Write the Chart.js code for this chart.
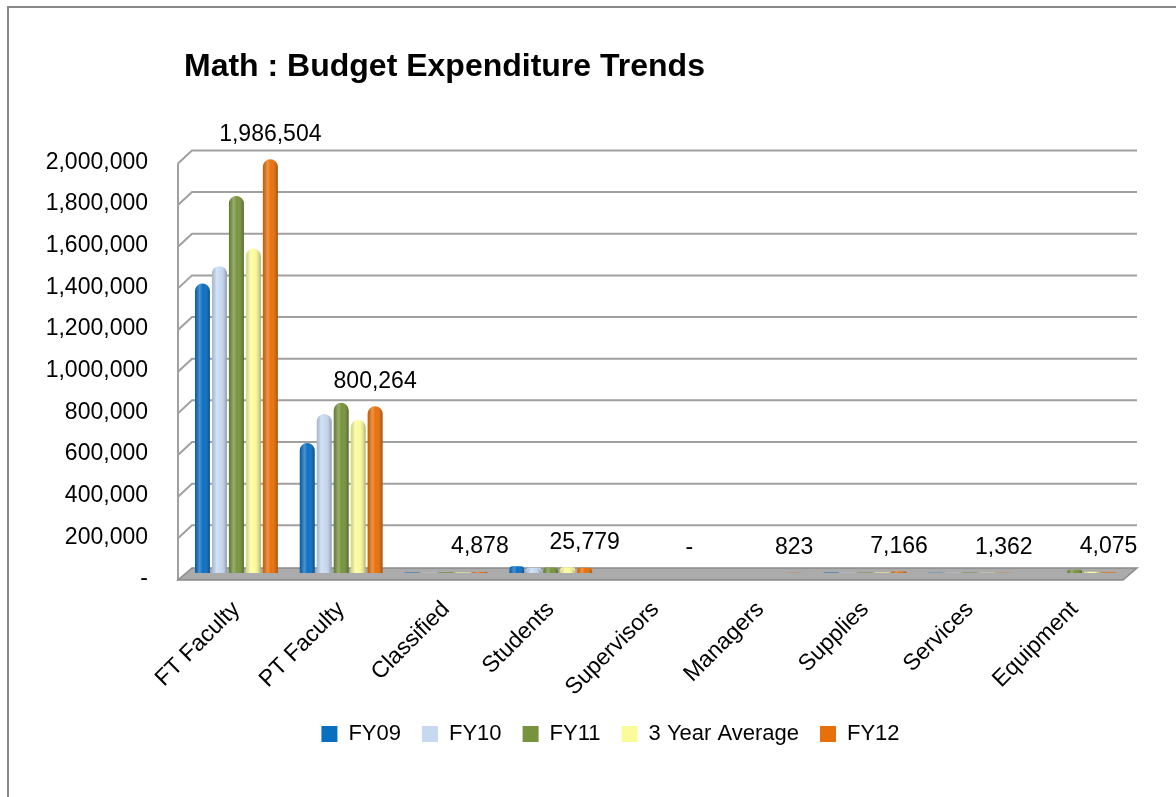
<!DOCTYPE html>
<html>
<head>
<meta charset="utf-8">
<title>Math : Budget Expenditure Trends</title>
<script src="https://cdn.jsdelivr.net/npm/chart.js"></script>
<style>
  html, body { margin: 0; padding: 0; background: #fff; }
  #wrap { width: 1176px; height: 797px; }
</style>
</head>
<body>
<div id="wrap"><canvas id="budgetChart" width="1176" height="797"></canvas></div>
<script>
// budget lines and yearly spending
const categories = ['FT Faculty', 'PT Faculty', 'Classified', 'Students', 'Supervisors', 'Managers', 'Supplies', 'Services', 'Equipment'];
const fy09 = [1390000, 624000, 2500, 32000, 0, 600, 2000, 900, 0];
const fy10 = [1473000, 763000, 1800, 25000, 0, 0, 1500, 1100, 500];
const fy11 = [1810000, 817000, 3200, 27000, 0, 400, 3000, 2000, 16000];
const avg3 = [1558000, 735000, 2500, 28000, 0, 333, 2167, 1333, 5500];
const fy12 = [1986504, 800264, 4878, 25779, 0, 823, 7166, 1362, 4075];

const seriesNames = ['FY09', 'FY10', 'FY11', '3 Year Average', 'FY12'];
const seriesValues = [fy09, fy10, fy11, avg3, fy12];
const seriesColors = ['#0b6fc1', '#c6d9f1', '#77933c', '#fbfb9c', '#e8700a'];
const seriesEdges = ['#07508c', '#93aacb', '#556b2a', '#c9c96c', '#a84f05'];

const yMax = 2000000;
const yStep = 200000;
const labelSeries = 4; // only FY12 gets value labels

function fmt(v) {
  return v === 0 ? '-' : v.toLocaleString('en-US');
}

Chart.defaults.font.family = "'Liberation Sans', Arial, sans-serif";
Chart.defaults.color = '#000';

// outer frame of the chart box
const framePlugin = {
  id: 'frame',
  beforeDraw(chart) {
    const ctx = chart.ctx;
    ctx.save();
    ctx.fillStyle = '#fff';
    ctx.fillRect(0, 0, chart.width, chart.height);
    ctx.strokeStyle = '#888';
    ctx.lineWidth = 2;
    ctx.beginPath();
    ctx.moveTo(8, chart.height);
    ctx.lineTo(8, 7);
    ctx.lineTo(chart.width, 7);
    ctx.stroke();
    ctx.restore();
  }
};

// push the legend a little right so it sits under the plot
const legendShift = {
  id: 'legendShift',
  afterLayout(chart) {
    const lg = chart.legend;
    if (!lg) return;
    lg.left += 29;
    lg.right += 29;
    if (lg.legendHitBoxes) lg.legendHitBoxes.forEach(b => { b.left += 29; });
  }
};

// back wall grid, side wall and floor of the 3-D box
const wallPlugin = {
  id: 'walls',
  beforeDatasetsDraw(chart) {
    const ctx = chart.ctx;
    const area = chart.chartArea;
    const ys = chart.scales.y;
    const frontX = area.left - 6;
    const backX = area.left + 8;
    const backRight = area.right + 10;
    const base = ys.getPixelForValue(0);
    ctx.save();
    ctx.strokeStyle = '#a0a0a0';
    ctx.lineWidth = 2;
    ctx.beginPath();
    for (let v = yStep; v <= yMax; v += yStep) {
      const yy = ys.getPixelForValue(v);
      ctx.moveTo(frontX, yy + 7);
      ctx.lineTo(backX, yy - 6);
      ctx.lineTo(backRight, yy - 6);
    }
    ctx.moveTo(frontX, ys.getPixelForValue(yMax) + 7);
    ctx.lineTo(frontX, base + 7);
    ctx.stroke();

    ctx.beginPath();
    ctx.moveTo(frontX, base + 7);
    ctx.lineTo(backRight - 14, base + 7);
    ctx.lineTo(backRight, base - 5);
    ctx.lineTo(backX, base - 5);
    ctx.closePath();
    ctx.fillStyle = '#ababab';
    ctx.fill();
    ctx.strokeStyle = '#8a8a8a';
    ctx.lineWidth = 1.5;
    ctx.stroke();
    ctx.restore();
  }
};

// cylinder shading over each bar
const cylinderPlugin = {
  id: 'cylinder',
  afterDatasetsDraw(chart) {
    const ctx = chart.ctx;
    chart.data.datasets.forEach((ds, i) => {
      chart.getDatasetMeta(i).data.forEach(bar => {
        const p = bar.getProps(['x', 'y', 'base', 'width'], true);
        const h = p.base - p.y;
        if (h < 1) return;
        const left = p.x - p.width / 2;
        const r = Math.min(p.width / 2, h);
        const g = ctx.createLinearGradient(left, 0, left + p.width, 0);
        g.addColorStop(0, 'rgba(0,0,0,0.15)');
        g.addColorStop(0.3, 'rgba(255,255,255,0.25)');
        g.addColorStop(0.55, 'rgba(255,255,255,0)');
        g.addColorStop(1, 'rgba(0,0,0,0.3)');
        ctx.save();
        ctx.beginPath();
        ctx.roundRect(left, p.y, p.width, h, [r, r, 0, 0]);
        ctx.fillStyle = g;
        ctx.fill();
        ctx.restore();
      });
    });
  }
};

// FY12 values above the bars
const valueLabelPlugin = {
  id: 'valueLabels',
  afterDatasetsDraw(chart) {
    const ctx = chart.ctx;
    const meta = chart.getDatasetMeta(labelSeries);
    const values = chart.data.datasets[labelSeries].data;
    ctx.save();
    ctx.font = "23px 'Liberation Sans', Arial, sans-serif";
    ctx.fillStyle = '#000';
    ctx.textAlign = 'center';
    ctx.textBaseline = 'middle';
    meta.data.forEach((bar, j) => {
      const p = bar.getProps(['x', 'y'], true);
      ctx.fillText(fmt(values[j]), p.x, p.y - 25);
    });
    ctx.restore();
  }
};

const datasets = seriesNames.map((name, i) => ({
  label: name,
  data: seriesValues[i],
  backgroundColor: seriesColors[i],
  borderColor: seriesEdges[i],
  borderWidth: 0,
  borderRadius: { topLeft: 8, topRight: 8, bottomLeft: 0, bottomRight: 0 },
  borderSkipped: false,
  categoryPercentage: 0.81,
  barPercentage: 0.88
}));

new Chart(document.getElementById('budgetChart').getContext('2d'), {
  type: 'bar',
  data: { labels: categories, datasets: datasets },
  plugins: [framePlugin, legendShift, wallPlugin, cylinderPlugin, valueLabelPlugin],
  options: {
    responsive: false,
    animation: false,
    layout: { padding: { left: 36, right: 49, top: 0, bottom: 42 } },
    plugins: {
      title: {
        display: true,
        text: 'Math : Budget Expenditure Trends',
        align: 'start',
        fullSize: false,
        color: '#000',
        font: { size: 32, weight: 'bold' },
        padding: { top: 48, bottom: 70 }
      },
      legend: {
        position: 'bottom',
        labels: {
          boxWidth: 16,
          boxHeight: 16,
          padding: 21,
          color: '#000',
          font: { size: 22 }
        }
      },
      tooltip: { enabled: false }
    },
    scales: {
      x: {
        grid: { display: false, drawTicks: false },
        border: { display: false },
        ticks: { autoSkip: false, maxRotation: 45, minRotation: 45, padding: 23, color: '#000', font: { size: 23 } },
        afterFit(scale) { scale.height = 129; }
      },
      y: {
        min: 0,
        max: yMax,
        grid: { display: false, drawTicks: false },
        border: { display: false },
        ticks: {
          stepSize: yStep,
          padding: 36,
          labelOffset: 6,
          color: '#000',
          font: { size: 23 },
          callback: v => fmt(v)
        },
        afterFit(scale) { scale.width = 148; }
      }
    }
  }
});
</script>
</body>
</html>
